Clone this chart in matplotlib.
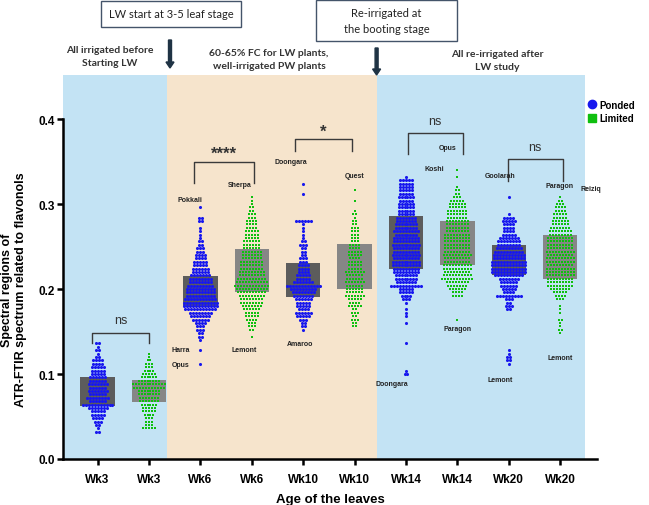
import numpy as np
import matplotlib
matplotlib.use("Agg")
import matplotlib.pyplot as plt
from matplotlib.patches import Rectangle, FancyArrow
from matplotlib.lines import Line2D

plt.rcParams["font.family"] = ["Liberation Sans", "DejaVu Sans"]

# ---- data ---------------------------------------------------------------
tick_labels = ["Wk3", "Wk3", "Wk6", "Wk6", "Wk10", "Wk10", "Wk14", "Wk14", "Wk20", "Wk20"]
condition = ["Ponded", "Limited"] * 5

# grey boxes (lower / upper edge) per position
box_low = [0.062, 0.067, 0.180, 0.197, 0.191, 0.200, 0.224, 0.228, 0.2165, 0.212]
box_high = [0.097, 0.093, 0.215, 0.247, 0.231, 0.253, 0.286, 0.280, 0.252, 0.264]

# dots: number of leaves in each 0.004-wide level, starting at *_start
STEP = 0.004
wk3_p_start = 0.032
wk3_p = [2, 1, 2, 3, 4, 5, 5, 7, 11, 6, 8, 6, 7, 6, 7, 6, 6, 5, 5, 5, 4, 4, 2, 1, 2, 1, 2]
wk3_l_start = 0.036
wk3_l = [5, 3, 3, 3, 4, 5, 5, 6, 7, 7, 8, 8, 11, 12, 8, 6, 5, 4, 3, 3, 2, 1, 1]
wk6_p_start = 0.112
wk6_p = [1, 0, 0, 0, 1, 0, 0, 1, 2, 2, 3, 3, 4, 6, 7, 8, 11, 12, 12, 11, 10, 10, 10, 9,
         8, 8, 7, 6, 6, 5, 5, 4, 4, 3, 3, 2, 2, 1, 1, 1, 1, 0, 2, 2, 0, 0, 1]
wk6_l_start = 0.144
wk6_l = [1, 0, 2, 3, 3, 4, 5, 5, 6, 7, 8, 8, 9, 10, 11, 12, 11, 10, 9, 9, 8, 8, 8, 7,
         7, 7, 6, 6, 6, 5, 5, 5, 4, 4, 4, 3, 3, 2, 2, 1, 1, 1]
wk10_p_start = 0.152
wk10_p = [1, 2, 2, 3, 5, 6, 4, 5, 5, 6, 7, 8, 9, 12, 7, 5, 5, 4, 4, 4, 3, 3, 2, 2,
          2, 3, 2, 1, 1, 1, 1, 1, 6, 0, 0, 0, 0, 0, 0, 0, 1, 0, 0, 1]
wk10_l_start = 0.156
wk10_l = [2, 2, 3, 2, 3, 2, 5, 4, 5, 7, 6, 6, 6, 7, 6, 6, 7, 5, 5, 5, 4, 5, 5, 4,
          4, 3, 3, 3, 3, 3, 2, 2, 1, 2, 1, 0, 0, 1, 0, 0, 1]
wk14_p_start = 0.100
wk14_p = [2, 1, 0, 0, 0, 0, 0, 0, 0, 1, 0, 0, 0, 0, 0, 1, 0, 1, 1, 1, 0, 1,
          3, 4, 5, 5, 11, 7, 8, 8, 9, 9, 10, 10, 9, 10, 9, 9, 10, 9, 9, 8, 9, 8,
          8, 7, 7, 6, 6, 6, 6, 5, 6, 5, 5, 5, 5, 5, 1]
wk14_l_start = 0.164
wk14_l = [1, 0, 0, 0, 0, 0, 0, 4, 4, 6, 7, 8, 11, 10, 9, 10, 10, 9, 9, 10, 9, 9,
          9, 9, 9, 9, 8, 8, 8, 8, 7, 7, 7, 6, 6, 5, 3, 2, 2, 1, 0, 0, 1, 0, 1]
wk20_p_start = 0.112
wk20_p = [1, 2, 2, 1, 1, 0, 0, 0, 0, 0, 0, 0, 0, 0, 0, 0,
          2, 3, 2, 3, 9, 4, 5, 6, 6, 7, 10, 12, 12, 12, 12, 11, 11, 10, 9, 8,
          8, 7, 5, 4, 4, 4, 5, 4, 1, 0, 0, 0, 0, 1]
wk20_l_start = 0.148
wk20_l = [1, 2, 1, 1, 2, 0, 1, 1, 1, 0, 3, 4, 5, 7, 9, 9, 9, 10, 10, 10, 9, 10,
          10, 9, 10, 9, 9, 9, 9, 8, 8, 7, 6, 6, 5, 5, 4, 4, 3, 2, 1]

groups = [(wk3_p_start, wk3_p), (wk3_l_start, wk3_l), (wk6_p_start, wk6_p),
          (wk6_l_start, wk6_l), (wk10_p_start, wk10_p), (wk10_l_start, wk10_l),
          (wk14_p_start, wk14_p), (wk14_l_start, wk14_l), (wk20_p_start, wk20_p),
          (wk20_l_start, wk20_l)]

# significance brackets: (x from, x to, top, leg bottom, label)
brackets = [(-0.11, 1.0, 0.148, 0.137, "ns"),
            (1.87, 3.05, 0.350, 0.325, "****"),
            (3.84, 4.94, 0.376, 0.362, "*"),
            (6.03, 7.10, 0.383, 0.359, "ns"),
            (7.98, 9.05, 0.3526, 0.327, "ns")]

# cultivar names next to extreme points
cultivars = [("Pokkali", 1.80, 0.305), ("Sherpa", 2.76, 0.323), ("Doongara", 3.76, 0.350),
             ("Quest", 5.01, 0.333), ("Harra", 1.62, 0.129), ("Opus", 1.62, 0.111),
             ("Lemont", 2.85, 0.129), ("Amaroo", 3.93, 0.136), ("Doongara", 5.72, 0.089),
             ("Opus", 6.81, 0.367), ("Koshi", 6.56, 0.342), ("Goolarah", 7.84, 0.333),
             ("Paragon", 8.99, 0.322), ("Reiziq", 9.59, 0.318), ("Paragon", 7.00, 0.153),
             ("Lemont", 7.84, 0.093), ("Lemont", 9.00, 0.119)]

colors = {"Ponded": "#1818ee", "Limited": "#0fbf0f"}
box_colors = {"Ponded": "#5c5c5c", "Limited": "#868686"}
markers = {"Ponded": "o", "Limited": "s"}
sizes = {"Ponded": 5, "Limited": 4.5}

# ---- figure ---------------------------------------------------------------
W, H = 649, 506
fig = plt.figure(figsize=(W / 100, H / 100), dpi=100)
ax = fig.add_axes([63 / W, 1 - 460 / H, (597 - 63) / W, (460 - 76) / H])
ax.set_xlim(-0.673, 9.716)
ax.set_ylim(0, 0.4518)

ax.axvspan(-0.673, 1.35, color="#c3e3f4", lw=0, zorder=0)
ax.axvspan(1.35, 5.43, color="#f6e4cc", lw=0, zorder=0)
ax.axvspan(5.43, 9.48, color="#c3e3f4", lw=0, zorder=0)

dx = 0.058
for i, ((start, counts), cond) in enumerate(zip(groups, condition)):
    ax.bar(i, box_high[i] - box_low[i], bottom=box_low[i], width=0.67,
           color=box_colors[cond], lw=0, zorder=2)
    xs, ys = [], []
    for k, n in enumerate(counts):
        level = start + k * STEP
        for j in range(n):
            xs.append(i + (j - (n - 1) / 2) * dx)
            ys.append(level)
    ax.scatter(xs, ys, s=sizes[cond], marker=markers[cond], color=colors[cond],
               lw=0, zorder=3)

for x0, x1, top, bot, lab in brackets:
    ax.plot([x0, x0, x1, x1], [bot, top, top, bot], color="#3a3a3a", lw=1.0,
            zorder=4, clip_on=False)
    if lab == "ns":
        ax.text((x0 + x1) / 2, top + 0.008, lab, ha="center", va="bottom",
                fontsize=9, color="#333333")
    else:
        ax.text((x0 + x1) / 2, top + 0.001, lab, ha="center", va="bottom",
                fontsize=12, fontweight="bold", color="#333333")

for name, x, y in cultivars:
    ax.text(x, y, name, ha="center", va="center", fontsize=5, fontweight="bold",
            color="#222222", zorder=5, clip_on=False)

for s in ["top", "right"]:
    ax.spines[s].set_visible(False)
ax.spines["left"].set_bounds(0, 0.4)
ax.spines["left"].set_linewidth(1.8)
ax.spines["bottom"].set_linewidth(1.8)
ax.set_yticks([0.0, 0.1, 0.2, 0.3, 0.4])
ax.set_yticklabels(["0.0", "0.1", "0.2", "0.3", "0.4"])
ax.set_xticks(range(10))
ax.set_xticklabels(tick_labels)
ax.tick_params(axis="both", width=1.8, length=4, labelsize=8.5, pad=2)
for t in ax.get_xticklabels() + ax.get_yticklabels():
    t.set_fontweight("bold")
ax.tick_params(axis="x", pad=6)
ax.set_xlabel("Age of the leaves", fontsize=9.5, fontweight="bold", labelpad=6)
fig.text(14 / W, 1 - 290 / H, "Spectral regions of\nATR-FTIR spectrum related to flavonols",
         rotation=90, ha="center", va="center", fontsize=9, fontweight="bold",
         linespacing=1.15)

# legend
handles = [Line2D([], [], marker="o", ls="", color=colors["Ponded"], markersize=6),
           Line2D([], [], marker="s", ls="", color=colors["Limited"], markersize=6)]
fig.legend(handles, ["Ponded", "Limited"], loc="upper left",
           bbox_to_anchor=(583 / W, 1 - 97 / H), frameon=False,
           prop={"size": 7, "weight": "bold"}, handletextpad=0.3,
           labelspacing=0.35, handlelength=1.0, borderaxespad=0)

# stage annotations above the plot
note_font = ["Lato", "DejaVu Sans"]
for (x0, y0, x1, y1), txt in [((101, 2, 241, 28), "LW start at 3-5 leaf stage"),
                               ((316, 1, 457, 42), "Re-irrigated at\nthe booting stage")]:
    fig.patches.append(Rectangle((x0 / W, 1 - y1 / H), (x1 - x0) / W, (y1 - y0) / H,
                                 transform=fig.transFigure, fill=True, fc="white",
                                 ec="#44546a", lw=1.0))
    fig.text((x0 + x1) / 2 / W, 1 - (y0 + y1) / 2 / H, txt, ha="center", va="center",
             fontsize=8, family=note_font, linespacing=1.6, color="#222222")

for x, y, txt in [(110, 57, "All irrigated before\nStarting LW"),
                  (269, 60, "60-65% FC for LW plants,\nwell-irrigated PW plants"),
                  (497, 61, "All re-irrigated after\nLW study")]:
    fig.text(x / W, 1 - y / H, txt, ha="center", va="center", fontsize=7.5,
             family=note_font, fontweight="bold", linespacing=1.5, color="#333333")

for x, y0, y1 in [(170, 41, 69), (376.6, 49, 76)]:
    fig.patches.append(FancyArrow(
        x / W, 1 - y0 / H, 0, -(y1 - y0) / H, width=3 / W, head_width=8 / W,
        head_length=6 / H, length_includes_head=True, transform=fig.transFigure,
        color="#1f3344"))

fig.savefig("out.png", dpi=100)
